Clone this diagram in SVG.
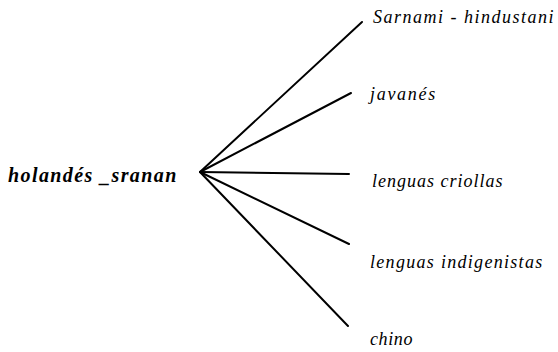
<svg xmlns="http://www.w3.org/2000/svg" width="558" height="352" viewBox="0 0 558 352">
<style>
text{fill:#000}
.c line{stroke:#000;stroke-width:2;stroke-linecap:round}
</style>
<rect width="558" height="352" fill="#fff"/>
<g class="c" id="connectors">
<line x1="200" y1="172" x2="362" y2="22"/>
<line x1="200" y1="172" x2="351" y2="93"/>
<line x1="200" y1="172" x2="349" y2="174"/>
<line x1="200" y1="172" x2="349" y2="244"/>
<line x1="200" y1="172" x2="348" y2="326"/>
</g>
<g id="root"><text font-family="Liberation Serif" font-style="italic" font-weight="bold" font-size="20" letter-spacing="1.4" x="8" y="182">holandés _sranan</text></g>
<g id="sarnami"><text font-family="Liberation Serif" font-style="italic" font-size="18" letter-spacing="1.5" x="373" y="23">Sarnami - hindustani</text></g>
<g id="javanes"><text font-family="Liberation Serif" font-style="italic" font-size="18" letter-spacing="1.7" x="370" y="100">javanés</text></g>
<g id="criollas"><text font-family="Liberation Serif" font-style="italic" font-size="18" letter-spacing="1" x="372" y="187">lenguas criollas</text></g>
<g id="indigenistas"><text font-family="Liberation Serif" font-style="italic" font-size="18" letter-spacing="1.3" x="370" y="268">lenguas indigenistas</text></g>
<g id="chino"><text font-family="Liberation Serif" font-style="italic" font-size="18" letter-spacing="0.6" x="370" y="345">chino</text></g>
</svg>
